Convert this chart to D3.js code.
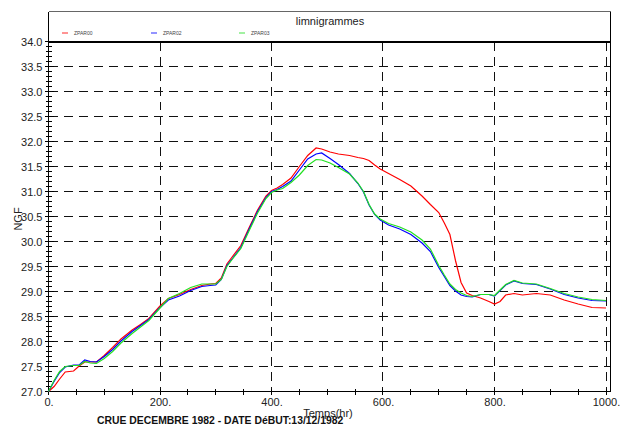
<!DOCTYPE html>
<html>
<head>
<meta charset="utf-8">
<script src="https://cdn.jsdelivr.net/npm/d3@7"></script>
<style>
body { margin: 0; background: #fff; }
text { font-family: "Liberation Sans", Arial, sans-serif; }
</style>
</head>
<body>
<div id="chart"></div>
<script>
// Data
var hours = [0, 10, 20, 30, 45, 55, 65, 75, 86, 100, 115, 130, 150, 165, 180, 200, 215, 235, 255, 275,
             290, 300, 310, 320, 330, 345, 360, 375, 390, 400, 410, 420, 435, 450, 465, 480, 490, 505, 520, 540,
             555, 565, 575, 585, 595, 610, 630, 650, 670, 685, 700, 710, 720, 730, 740, 750, 760, 775, 790, 800,
             810, 820, 835, 850, 875, 900, 925, 950, 975, 1000];

var zpar00 = [27.0, 27.1, 27.25, 27.39, 27.41, 27.51, 27.59, 27.59, 27.59, 27.72, 27.88, 28.05, 28.23, 28.34, 28.46, 28.71, 28.86, 28.94, 29.04, 29.12,
              29.15, 29.16, 29.27, 29.55, 29.70, 29.92, 30.28, 30.63, 30.91, 31.02, 31.07, 31.14, 31.27, 31.50, 31.72, 31.87, 31.85, 31.79, 31.75, 31.72,
              31.68, 31.66, 31.62, 31.53, 31.45, 31.36, 31.24, 31.11, 30.91, 30.74, 30.58, 30.37, 30.14, 29.62, 29.18, 28.97, 28.92, 28.87, 28.80, 28.75,
              28.80, 28.93, 28.96, 28.93, 28.96, 28.93, 28.83, 28.75, 28.68, 28.67];

var zpar02 = [27.0, 27.2, 27.38, 27.49, 27.53, 27.53, 27.63, 27.60, 27.59, 27.70, 27.84, 28.01, 28.20, 28.32, 28.44, 28.68, 28.83, 28.91, 29.02, 29.10,
              29.12, 29.13, 29.24, 29.52, 29.66, 29.88, 30.25, 30.60, 30.88, 31.00, 31.04, 31.10, 31.21, 31.43, 31.65, 31.75, 31.77, 31.66, 31.54, 31.36,
              31.16, 30.99, 30.73, 30.54, 30.43, 30.33, 30.25, 30.14, 29.97, 29.80, 29.48, 29.30, 29.12, 29.01, 28.93, 28.90, 28.89, 28.94, 28.94, 28.91,
              29.02, 29.13, 29.21, 29.16, 29.14, 29.05, 28.94, 28.87, 28.82, 28.81];

var zpar03 = [27.0, 27.22, 27.4, 27.50, 27.52, 27.52, 27.60, 27.57, 27.56, 27.66, 27.80, 27.97, 28.16, 28.29, 28.42, 28.67, 28.86, 28.96, 29.08, 29.15,
              29.15, 29.15, 29.24, 29.50, 29.65, 29.86, 30.22, 30.57, 30.86, 30.98, 31.03, 31.06, 31.18, 31.33, 31.52, 31.64, 31.63, 31.57, 31.48, 31.35,
              31.17, 31.00, 30.74, 30.55, 30.45, 30.36, 30.29, 30.19, 30.03, 29.85, 29.52, 29.33, 29.15, 29.04, 28.97, 28.92, 28.90, 28.94, 28.94, 28.92,
              29.03, 29.14, 29.22, 29.17, 29.15, 29.06, 28.96, 28.89, 28.84, 28.82];

var seriesNames = ["ZPAR00", "ZPAR02", "ZPAR03"];
var seriesColors = ["#ff0000", "#0000ff", "#22e022"];

var yTickValues = [27.0, 27.5, 28.0, 28.5, 29.0, 29.5, 30.0, 30.5, 31.0, 31.5, 32.0, 32.5, 33.0, 33.5, 34.0];
var xTickValues = [0, 200, 400, 600, 800, 1000];

var svgWidth = 621, svgHeight = 427;
var plotLeft = 48.5, plotRight = 606, frameRight = 610.5, plotTop = 41.5, plotBottom = 391.5, boxTop = 11.5;

var svg = d3.select("#chart").append("svg")
    .attr("width", svgWidth)
    .attr("height", svgHeight);

var xScale = d3.scaleLinear().domain([0, 1000]).range([plotLeft, plotRight]);
var yScale = d3.scaleLinear().domain([27, 34]).range([plotBottom, plotTop]);

// Dashed grid
var grid = svg.append("g")
    .attr("stroke", "#111")
    .attr("stroke-width", 1)
    .attr("stroke-dasharray", "9,6")
    .attr("shape-rendering", "crispEdges");

grid.selectAll("line.h")
    .data(yTickValues.filter(d => d > 27 && d < 34))
    .enter().append("line")
    .attr("x1", plotLeft).attr("x2", frameRight)
    .attr("y1", d => Math.floor(yScale(d)) + 0.5)
    .attr("y2", d => Math.floor(yScale(d)) + 0.5);

grid.selectAll("line.v")
    .data(xTickValues.filter(d => d > 0))
    .enter().append("line")
    .attr("y1", plotTop).attr("y2", plotBottom)
    .attr("x1", d => Math.floor(xScale(d)) + 0.5)
    .attr("x2", d => Math.floor(xScale(d)) + 0.5);

// Frame
var frame = svg.append("g").attr("shape-rendering", "crispEdges");
frame.append("line").attr("x1", plotLeft).attr("x2", frameRight).attr("y1", boxTop).attr("y2", boxTop).attr("stroke", "#666");
frame.append("line").attr("x1", frameRight).attr("x2", frameRight).attr("y1", boxTop).attr("y2", plotBottom).attr("stroke", "#000");
frame.append("line").attr("x1", plotLeft).attr("x2", plotLeft).attr("y1", boxTop).attr("y2", plotBottom).attr("stroke", "#000");
frame.append("line").attr("x1", plotLeft).attr("x2", frameRight).attr("y1", plotBottom).attr("y2", plotBottom).attr("stroke", "#000");
frame.append("line").attr("x1", plotLeft).attr("x2", frameRight).attr("y1", yScale(34)).attr("y2", yScale(34))
    .attr("stroke", "#000").attr("stroke-width", 2);

// Y axis ticks (minor every 0.1, major every 0.5)
var yMinor = d3.range(270, 341).map(d => d / 10);
frame.selectAll("line.ymin")
    .data(yMinor)
    .enter().append("line")
    .attr("x1", plotLeft - 2.5).attr("x2", plotLeft + 3)
    .attr("y1", d => Math.floor(yScale(d)) + 0.5)
    .attr("y2", d => Math.floor(yScale(d)) + 0.5)
    .attr("stroke", "#000");
frame.selectAll("line.ymaj")
    .data(yTickValues)
    .enter().append("line")
    .attr("x1", plotLeft - 4).attr("x2", plotLeft + 5)
    .attr("y1", d => Math.floor(yScale(d)) + 0.5)
    .attr("y2", d => Math.floor(yScale(d)) + 0.5)
    .attr("stroke", "#000");

// X axis ticks (minor every 50)
var xMinor = d3.range(0, 1001, 50);
frame.selectAll("line.xmin")
    .data(xMinor)
    .enter().append("line")
    .attr("y1", plotBottom - 3).attr("y2", plotBottom + 3)
    .attr("x1", d => Math.floor(xScale(d)) + 0.5)
    .attr("x2", d => Math.floor(xScale(d)) + 0.5)
    .attr("stroke", "#000");

// Axis labels through d3 axes
var yAxis = d3.axisLeft(yScale).tickValues(yTickValues).tickSize(0).tickPadding(6)
    .tickFormat(d3.format(".1f"));
var yG = svg.append("g").attr("transform", "translate(" + plotLeft + ",0)").call(yAxis);
yG.select(".domain").remove();
yG.selectAll("text").attr("font-size", 11).attr("fill", "#222")
    .style("font-family", "'Liberation Sans', Arial, sans-serif");

var xAxis = d3.axisBottom(xScale).tickValues(xTickValues).tickSize(0).tickPadding(7)
    .tickFormat(d => d + ".");
var xG = svg.append("g").attr("transform", "translate(0," + plotBottom + ")").call(xAxis);
xG.select(".domain").remove();
xG.selectAll("text").attr("font-size", 11).attr("fill", "#222")
    .style("font-family", "'Liberation Sans', Arial, sans-serif");

// Series lines
var lineGen = d3.line()
    .x((d, i) => xScale(hours[i]))
    .y(d => yScale(d));

[zpar00, zpar02, zpar03].forEach(function(values, i) {
    svg.append("path")
        .datum(values)
        .attr("fill", "none")
        .attr("stroke", seriesColors[i])
        .attr("stroke-width", 1.2)
        .attr("d", lineGen);
});

// Title and legend
svg.append("text")
    .attr("x", 330).attr("y", 25)
    .attr("text-anchor", "middle")
    .attr("font-size", 11)
    .attr("fill", "#222")
    .text("limnigrammes");

var legendX = [62, 151, 239];
seriesNames.forEach(function(name, i) {
    svg.append("line")
        .attr("x1", legendX[i]).attr("x2", legendX[i] + 6)
        .attr("y1", 33).attr("y2", 33)
        .attr("stroke", seriesColors[i])
        .attr("stroke-width", 1.2)
        .attr("opacity", 0.7);
    svg.append("text")
        .attr("x", legendX[i] + 12).attr("y", 35)
        .attr("font-size", 5)
        .attr("fill", "#444")
        .text(name);
});

// Axis titles
svg.append("text")
    .attr("transform", "translate(22, 219) rotate(-90)")
    .attr("text-anchor", "middle")
    .attr("font-size", 11)
    .attr("fill", "#222")
    .text("NGF");

svg.append("text")
    .attr("x", 328).attr("y", 417)
    .attr("text-anchor", "middle")
    .attr("font-size", 11)
    .attr("fill", "#222")
    .text("Temps(hr)");

svg.append("text")
    .attr("x", 97).attr("y", 424)
    .attr("font-size", 10.4)
    .attr("font-weight", "bold")
    .attr("fill", "#111")
    .text("CRUE DECEMBRE 1982 - DATE DéBUT:13/12/1982");
</script>
</body>
</html>
